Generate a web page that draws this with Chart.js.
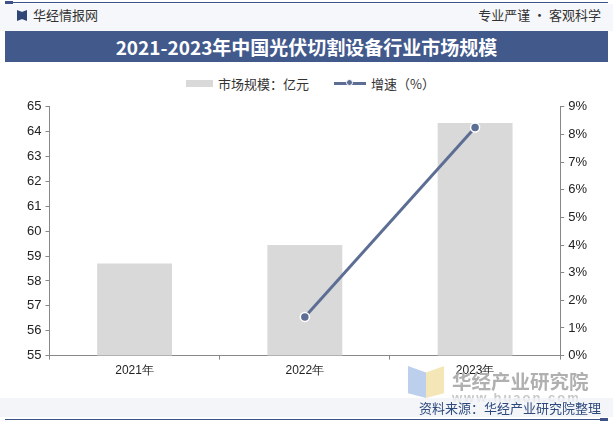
<!DOCTYPE html>
<html>
<head>
<meta charset="utf-8">
<script src="https://cdn.jsdelivr.net/npm/chart.js@4.4.0/dist/chart.umd.min.js"></script>
<style>
    body { margin: 0; width: 613px; height: 423px; overflow: hidden; background: #fff; font-family: "Noto Sans CJK SC", "Liberation Sans", sans-serif; position: relative; }
    .topline { position: absolute; left: 5px; top: 2px; width: 603px; height: 1px; background: #3d5387; }
    .topline::before { content: ''; position: absolute; left: 0; top: -1px; width: 8px; height: 3px; background: #3d5387; }
    .head { position: absolute; left: 0; top: 4px; width: 613px; height: 27px; background: #f6f7fa; }
    .brand { position: absolute; left: 17px; top: 5px; font-size: 13px; color: #333; }
    .brand i { display: inline-block; width: 10px; height: 11px; background: #2f4777; margin-right: 6px; vertical-align: -1px; clip-path: polygon(0 0, 45% 15%, 55% 15%, 100% 0, 100% 100%, 55% 85%, 45% 85%, 0 100%); }
    .motto { position: absolute; right: 12px; top: 5px; font-size: 13px; color: #333; }
    .titlebar { position: absolute; left: 5px; top: 31px; width: 603px; height: 31px; background: #42598c; color: #fff; font-size: 19px; font-weight: bold; text-align: center; line-height: 31px; }
    .legend { position: absolute; top: 72px; left: 4px; width: 613px; text-align: center; font-size: 13px; color: #333; }
    .legend span { display: inline-block; vertical-align: middle; }
    .lg-bar { width: 27px; height: 7px; background: #d9d9d9; margin-right: 5px; }
    .lg-line { width: 32px; height: 3px; background: #5d6e94; position: relative; margin: 0 5px 0 22px; }
    .lg-line::after { content: ''; position: absolute; left: 12px; top: -3px; width: 7px; height: 7px; border-radius: 50%; background: #5d6e94; border: 1px solid #fff; box-sizing: border-box; }
    #wrap { position: absolute; left: 0; top: 95px; width: 613px; height: 290px; }
    .logo { position: absolute; left: 408px; top: 366px; width: 36px; height: 32px; }
    .logo b { position: absolute; top: 0; width: 18px; height: 32px; }
    .logo .l { left: 0; background: #bcd0ee; clip-path: polygon(0 0, 100% 20%, 100% 100%, 0 85%); }
    .logo .r { left: 18px; background: #f5e6b8; clip-path: polygon(0 20%, 100% 0, 100% 85%, 0 100%); }
    .wm1 { position: absolute; left: 452px; top: 366px; font-size: 19.5px; font-weight: bold; color: #b0b0b0; }
    .wm2 { position: absolute; left: 452px; top: 390px; font-size: 13px; font-weight: bold; color: #c8c8c8; letter-spacing: 2px; font-family: "Liberation Sans", sans-serif; }
    .srcband { position: absolute; left: 0; top: 398px; width: 613px; height: 19px; background: rgba(240,242,247,0.8); }
    .source { position: absolute; right: 12px; top: 398px; font-size: 13px; color: #2e4a7d; }
    .botline { position: absolute; left: 5px; top: 419px; width: 603px; height: 1px; background: #3d5387; }
    .botline::after { content: ''; position: absolute; right: 0; top: -1px; width: 8px; height: 3px; background: #3d5387; }
</style>
</head>
<body>
<div class="head"></div>
<div class="topline"></div>
<div class="brand"><i></i>华经情报网</div>
<div class="motto">专业严谨 • 客观科学</div>
<div class="titlebar">2021-2023年中国光伏切割设备行业市场规模</div>
<div class="legend">
    <span class="lg-bar"></span><span>市场规模：亿元</span>
    <span class="lg-line"></span><span>增速（%）</span>
</div>
<div id="wrap"><canvas id="chart"></canvas></div>
<div class="logo"><b class="l"></b><b class="r"></b></div>
<div class="wm1">华经产业研究院</div>
<div class="wm2">www.huaon.com</div>
<div class="srcband"></div>
<div class="source">资料来源：华经产业研究院整理</div>
<div class="botline"></div>
<script>
const years = ['2021年', '2022年', '2023年'];
const marketSize = [58.7, 59.45, 64.35];
const growthRate = [null, 1.4, 8.25];

document.addEventListener('DOMContentLoaded', () => {
    const ctx = document.getElementById('chart');
    const tickFont = { family: 'Liberation Sans', size: 13 };

    new Chart(ctx, {
        data: {
            labels: years,
            datasets: [
                {
                    type: 'line',
                    label: '增速（%）',
                    data: growthRate,
                    yAxisID: 'y1',
                    borderColor: '#5d6e94',
                    borderWidth: 3,
                    pointRadius: 4.5,
                    pointBackgroundColor: '#5d6e94',
                    pointBorderColor: '#fff',
                    pointBorderWidth: 1.5,
                    tension: 0
                },
                {
                    type: 'bar',
                    label: '市场规模：亿元',
                    data: marketSize,
                    yAxisID: 'y',
                    backgroundColor: '#d9d9d9',
                    categoryPercentage: 0.88,
                    barPercentage: 0.5
                }
            ]
        },
        options: {
            responsive: true,
            maintainAspectRatio: false,
            animation: false,
            layout: { padding: { left: 23, right: 22, top: 7, bottom: 3 } },
            plugins: {
                legend: { display: false },
                tooltip: { enabled: false }
            },
            scales: {
                x: {
                    offset: true,
                    grid: { offset: true, drawOnChartArea: false, tickLength: 4, color: '#888' },
                    border: { color: '#888' },
                    ticks: { color: '#222', font: { family: 'Liberation Sans', size: 12 }, padding: 4 }
                },
                y: {
                    position: 'left',
                    min: 55,
                    max: 65,
                    ticks: { stepSize: 1, color: '#222', font: tickFont, padding: 4 },
                    grid: { drawOnChartArea: false, tickLength: 4, color: '#888' },
                    border: { color: '#888' }
                },
                y1: {
                    position: 'right',
                    min: 0,
                    max: 9,
                    ticks: { stepSize: 1, color: '#222', font: tickFont, padding: 4, callback: v => v + '%' },
                    grid: { drawOnChartArea: false, tickLength: 4, color: '#888' },
                    border: { color: '#888' }
                }
            }
        }
    });
});
</script>
</body>
</html>
